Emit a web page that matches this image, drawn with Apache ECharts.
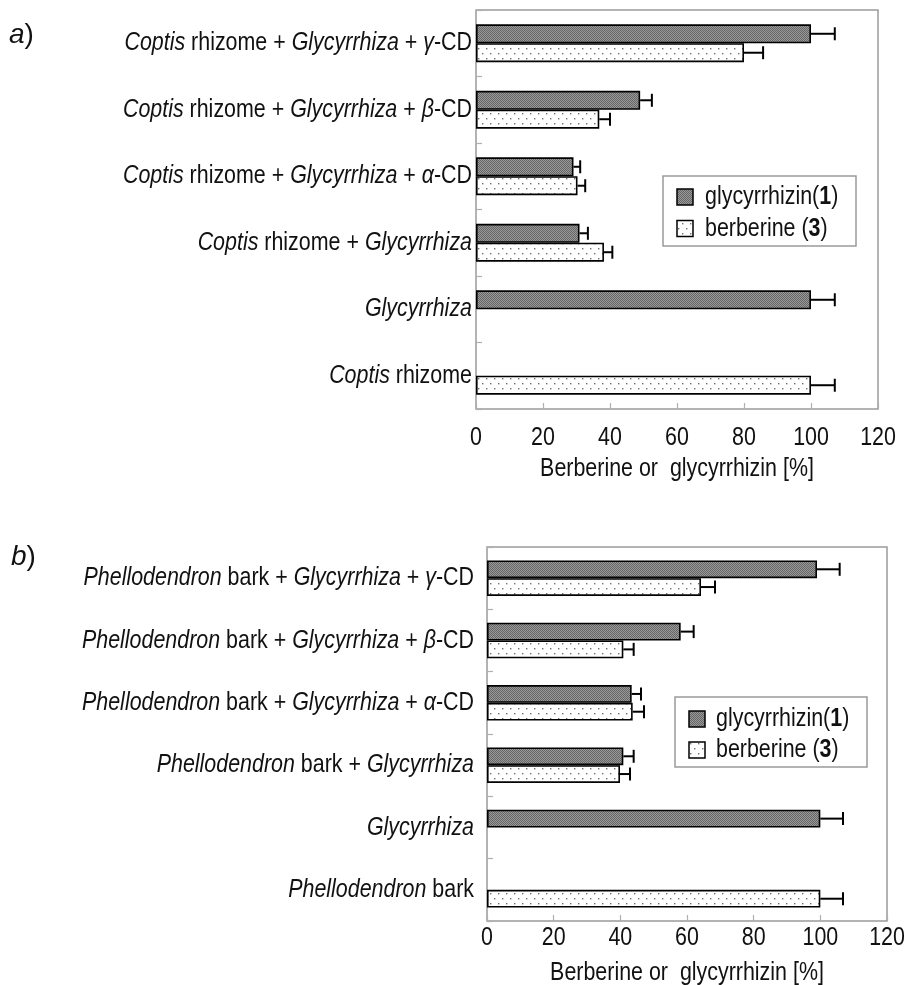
<!DOCTYPE html>
<html>
<head>
<meta charset="utf-8">
<script src="https://cdn.jsdelivr.net/npm/echarts@6/dist/echarts.min.js"></script>
<style>
  html, body { margin: 0; padding: 0; background: #fff; }
  #chart { width: 908px; height: 985px; }
</style>
</head>
<body>
<div id="chart"></div>
<script>
// ---- Panel a) Coptis rhizome ----
const catsA = [
  'Coptis rhizome + Glycyrrhiza + γ-CD',
  'Coptis rhizome + Glycyrrhiza + β-CD',
  'Coptis rhizome + Glycyrrhiza + α-CD',
  'Coptis rhizome + Glycyrrhiza',
  'Glycyrrhiza',
  'Coptis rhizome'
];
const glyA    = [100, 49, 29.1, 30.9, 100, null];
const glyErrA = [7.1, 3.5, 2.0, 2.5, 7.1, null];
const berA    = [80, 36.8, 30.3, 38.2, null, 100];
const berErrA = [5.7, 3.2, 2.3, 2.5, null, 7.1];

// ---- Panel b) Phellodendron bark ----
const catsB = [
  'Phellodendron bark + Glycyrrhiza + γ-CD',
  'Phellodendron bark + Glycyrrhiza + β-CD',
  'Phellodendron bark + Glycyrrhiza + α-CD',
  'Phellodendron bark + Glycyrrhiza',
  'Glycyrrhiza',
  'Phellodendron bark'
];
const glyB    = [99, 58.1, 43.4, 40.9, 100, null];
const glyErrB = [6.8, 3.9, 2.8, 3.1, 6.8, null];
const berB    = [64.2, 40.9, 43.7, 39.9, null, 100];
const berErrB = [4.2, 3.1, 3.4, 3.0, null, 6.8];

const xTicks = [0, 20, 40, 60, 80, 100, 120];
const seriesNames = ['glycyrrhizin(1)', 'berberine (3)'];
const axisTitle = 'Berberine or  glycyrrhizin [%]';
const panelLetters = ['a', 'b'];

const FONT = '"Liberation Sans", Arial, sans-serif';
const FS = 25.5;          // text size; drawn horizontally condensed
const SQUEEZE = 0.84;     // horizontal text scale
const CAT_GAP = 0.43;

// Panel geometry
const LAYOUT = [
  { grid: { left: 476, top: 10, width: 402, height: 399 }, labelGap: 4, tickY: 438, titleY: 469,
    legend: { left: 663, top: 176, width: 193, height: 70, iconX: 677, textX: 705, rows: [197, 228.5] },
    letter: { x: 9, y: 21 } },
  { grid: { left: 487, top: 547, width: 400, height: 374 }, labelGap: 13, tickY: 938, titleY: 973,
    legend: { left: 675, top: 697, width: 192, height: 70, iconX: 689, textX: 716, rows: [719, 750] },
    letter: { x: 11, y: 543 } }
];

// Fill patterns: fine gray screen for glycyrrhizin, sparse dots for berberine
function makeCanvas(w, h, painter) {
  const c = document.createElement('canvas');
  c.width = w; c.height = h;
  painter(c.getContext('2d'));
  return c;
}
const darkScreen = makeCanvas(4, 4, g => {
  for (let y = 0; y < 4; y++) for (let x = 0; x < 4; x++) {
    g.fillStyle = (x + y) % 2 === 0 ? '#666666' : '#999999';
    g.fillRect(x, y, 1, 1);
  }
});
const dotScreen = makeCanvas(8, 10, g => {
  g.fillStyle = '#ffffff';
  g.fillRect(0, 0, 8, 10);
  g.fillStyle = '#707070';
  g.fillRect(2, 3, 1.4, 1.4);
  g.fillRect(6, 8, 1.4, 1.4);
});
const fills = [
  { image: darkScreen, repeat: 'repeat' },
  { image: dotScreen, repeat: 'repeat' }
];

function italicize(label) {
  return label.replace(/(Coptis|Glycyrrhiza|Phellodendron|[αβγ])/g, '{i|$1}');
}

function errorRender(side) {
  return function (params, api) {
    const v = api.value(1), e = api.value(2), ci = api.value(0);
    const p0 = api.coord([v, ci]);
    const p1 = api.coord([v + e, ci]);
    const band = api.size([0, 1])[1];
    const bw = band * (1 - CAT_GAP) / 2;
    const y = p0[1] + side * bw / 2;
    const st = { stroke: '#000', lineWidth: 2 };
    return {
      type: 'group',
      children: [
        { type: 'line', shape: { x1: p0[0], y1: y, x2: p1[0], y2: y }, style: st },
        { type: 'line', shape: { x1: p1[0], y1: y - 6.5, x2: p1[0], y2: y + 6.5 }, style: st }
      ]
    };
  };
}

function errData(vals, errs) {
  const out = [];
  vals.forEach((v, i) => { if (v != null && errs[i] != null) out.push([i, v, errs[i]]); });
  return out;
}

const tickStyle = { show: true, inside: true, length: 6, lineStyle: { color: '#b0b0b0', width: 1.2 } };

function xAxisFor(gi) {
  return {
    type: 'value', gridIndex: gi, min: 0, max: 120, interval: 20,
    axisLine: { show: false }, axisTick: tickStyle,
    splitLine: { show: false }, axisLabel: { show: false }
  };
}

function yAxisFor(gi, cats) {
  return {
    type: 'category', gridIndex: gi, data: cats, inverse: true,
    axisLine: { show: false }, axisTick: tickStyle, axisLabel: { show: false }
  };
}

function barSeries(k, data, gi) {
  return {
    type: 'bar', name: seriesNames[k], data, xAxisIndex: gi, yAxisIndex: gi,
    barGap: '0%', barCategoryGap: (CAT_GAP * 100) + '%',
    itemStyle: { color: fills[k], borderColor: '#000', borderWidth: 1.6 },
    emphasis: { disabled: true },
    z: 2
  };
}

function errSeries(vals, errs, side, gi) {
  return {
    type: 'custom', xAxisIndex: gi, yAxisIndex: gi,
    data: errData(vals, errs), encode: { x: 1, y: 0 },
    renderItem: errorRender(side), z: 3, silent: true
  };
}

const chart = echarts.init(document.getElementById('chart'), null, { renderer: 'canvas' });
chart.setOption({
  backgroundColor: '#fff',
  animation: false,
  grid: LAYOUT.map(L => Object.assign({ show: true, borderColor: '#9a9a9a', borderWidth: 1.5, backgroundColor: 'transparent' }, L.grid)),
  xAxis: [xAxisFor(0), xAxisFor(1)],
  yAxis: [yAxisFor(0, catsA), yAxisFor(1, catsB)],
  series: [
    barSeries(0, glyA, 0),
    barSeries(1, berA, 0),
    errSeries(glyA, glyErrA, -1, 0),
    errSeries(berA, berErrA, 1, 0),
    barSeries(0, glyB, 1),
    barSeries(1, berB, 1),
    errSeries(glyB, glyErrB, -1, 1),
    errSeries(berB, berErrB, 1, 1)
  ]
});

// Condensed text: axis labels, axis titles, legends and panel letters,
// placed from the grids' own scales.
const richStyles = {
  i: { fontFamily: FONT, fontSize: FS, fontStyle: 'italic', fill: '#111' },
  b: { fontFamily: FONT, fontSize: FS, fontWeight: 'bold', fill: '#111' }
};
function label(x, y, text, align) {
  return {
    type: 'text', x, y, scaleX: SQUEEZE, silent: true, z: 10,
    style: {
      text, align, verticalAlign: 'middle',
      font: FS + 'px ' + FONT, fill: '#111', rich: richStyles
    }
  };
}

const graphics = [];
[catsA, catsB].forEach((cats, gi) => {
  const L = LAYOUT[gi];
  const finder = { gridIndex: gi };
  cats.forEach((c, i) => {
    const p = chart.convertToPixel(finder, [0, i]);
    graphics.push(label(p[0] - L.labelGap, p[1], italicize(c), 'right'));
  });
  xTicks.forEach(v => {
    const p = chart.convertToPixel(finder, [v, 0]);
    graphics.push(label(p[0], L.tickY, String(v), 'center'));
  });
  const mid = chart.convertToPixel(finder, [60, 0]);
  graphics.push(label(mid[0], L.titleY, axisTitle, 'center'));

  // legend box
  const G = L.legend;
  graphics.push({
    type: 'rect', silent: true, z: 8,
    shape: { x: G.left, y: G.top, width: G.width, height: G.height },
    style: { fill: '#fff', stroke: '#9a9a9a', lineWidth: 1.5 }
  });
  seriesNames.forEach((name, k) => {
    const cy = G.rows[k];
    graphics.push({
      type: 'rect', silent: true, z: 9,
      shape: { x: G.iconX, y: cy - 8, width: 16, height: 16 },
      style: { fill: fills[k], stroke: '#000', lineWidth: 1.5 }
    });
    graphics.push(label(G.textX, cy, name.replace(/\((\d)\)/, '({b|$1})'), 'left'));
  });

  // panel letter
  graphics.push({
    type: 'text', x: L.letter.x, y: L.letter.y, silent: true,
    style: {
      text: '{i|' + panelLetters[gi] + '})',
      font: '28px ' + FONT, fill: '#111',
      rich: { i: { fontStyle: 'italic', fontFamily: FONT, fontSize: 28, fill: '#111' } }
    }
  });
});
chart.setOption({ graphic: graphics });
</script>
</body>
</html>
